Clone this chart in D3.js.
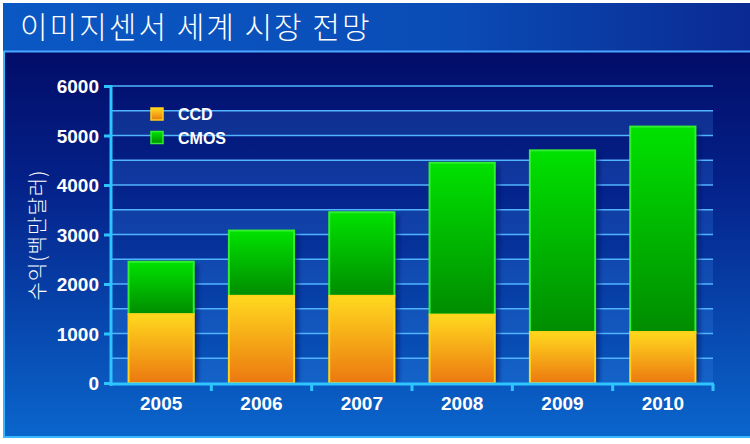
<!DOCTYPE html>
<html><head><meta charset="utf-8">
<script src="https://cdn.jsdelivr.net/npm/d3@7"></script>
<style>body{margin:0;background:#fff}svg{display:block}</style>
</head><body>
<script>
const years = ["2005","2006","2007","2008","2009","2010"];
const ccd = [1390, 1760, 1760, 1380, 1030, 1030];
const cmos = [1060, 1320, 1690, 3070, 3670, 4150];
const yTicks = [0,1000,2000,3000,4000,5000,6000];
const seriesNames = ["CCD","CMOS"];
const titleText = "이미지센서 세계 시장 전망";
const yTitle = "수익(백만달러)";

const W=750,H=444;
const svg=d3.select("body").append("svg").attr("width",W).attr("height",H);
const defs=svg.append("defs");
function lg(id,stops,x2,y2){const g=defs.append("linearGradient").attr("id",id).attr("x1",0).attr("y1",0).attr("x2",x2).attr("y2",y2);
 stops.forEach(s=>g.append("stop").attr("offset",s[0]).attr("stop-color",s[1]));}
lg("bodyG",[[0,"#020c68"],[0.35,"#04228a"],[1,"#0a66cc"]],0,1);
lg("titleG",[[0,"#0a58c4"],[0.6,"#0a4cb6"],[1,"#0a2a92"]],1,0);
lg("ccdG",[[0,"#ffd91e"],[1,"#ec7810"]],0,1);
lg("cmosG",[[0,"#00e200"],[1,"#008c00"]],0,1);
const blur=defs.append("filter").attr("id","sh").attr("x","-20%").attr("y","-20%").attr("width","140%").attr("height","140%");
blur.append("feGaussianBlur").attr("stdDeviation",2);

svg.append("rect").attr("width",W).attr("height",H).attr("fill","#fff");
svg.append("rect").attr("x",3).attr("y",51).attr("width",W-3).attr("height",387).attr("fill","url(#bodyG)");
svg.append("rect").attr("x",3).attr("y",3).attr("width",W-3).attr("height",48).attr("fill","url(#titleG)");
svg.append("line").attr("x1",3).attr("x2",W).attr("y1",51.5).attr("y2",51.5).attr("stroke","#4aa6ff").attr("stroke-width",2);
svg.append("line").attr("x1",4).attr("x2",4).attr("y1",51).attr("y2",438).attr("stroke","#3ab8ff").attr("stroke-width",2);
svg.append("line").attr("x1",3).attr("x2",W).attr("y1",437).attr("y2",437).attr("stroke","#3ab8ff").attr("stroke-width",2);

svg.append("text").attr("x",20).attr("y",38).attr("fill","#fff")
 .style("font-family","'Noto Sans CJK KR'").style("font-weight",300).style("font-size","30px").style("letter-spacing","2px")
 .text(titleText);

const x=d3.scaleBand().domain(years).range([111,713]).paddingInner(0.35).paddingOuter(0.175);
const y=d3.scaleLinear().domain([0,6000]).range([383,86]);

// bands
const g=svg.append("g");
d3.range(0,6000,1000).forEach(v=>{
 g.append("rect").attr("x",111).attr("width",602).attr("y",y(v+500)).attr("height",y(v)-y(v+500))
  .attr("fill","#3a8cf0").attr("opacity",0.22);
});
d3.range(500,6001,500).forEach(v=>{
 g.append("line").attr("x1",111).attr("x2",713).attr("y1",y(v)).attr("y2",y(v)).attr("stroke","#52b4ff").attr("stroke-width",1.5);
});

// bars
const data=years.map((yr,i)=>({yr,ccd:ccd[i],tot:ccd[i]+cmos[i]}));
const bars=svg.append("g");
bars.selectAll(".sh").data(data).join("rect").attr("x",d=>x(d.yr)+4).attr("y",d=>y(d.tot)+3)
 .attr("width",x.bandwidth()).attr("height",d=>y(0)-y(d.tot)-3).attr("fill","#001060").attr("opacity",0.6).attr("filter","url(#sh)");
bars.selectAll(".cmos").data(data).join("rect").attr("x",d=>x(d.yr)).attr("y",d=>y(d.tot))
 .attr("width",x.bandwidth()).attr("height",d=>y(d.ccd)-y(d.tot)).attr("fill","url(#cmosG)").attr("stroke","#30f030").attr("stroke-width",2);
bars.selectAll(".ccd").data(data).join("rect").attr("x",d=>x(d.yr)).attr("y",d=>y(d.ccd))
 .attr("width",x.bandwidth()).attr("height",d=>y(0)-y(d.ccd)).attr("fill","url(#ccdG)").attr("stroke","#ffd21a").attr("stroke-width",2);

// axes
const ax=svg.append("g").attr("transform","translate(111,0)")
 .call(d3.axisLeft(y).tickValues(yTicks).tickSize(7).tickPadding(5).tickFormat(d3.format("d")));
ax.select(".domain").remove();
ax.selectAll("line").attr("stroke","#2ec4ff").attr("stroke-width",3);
ax.selectAll("text").attr("fill","#fff").style("font-family","'Liberation Sans',Arial").style("font-weight","bold").style("font-size","19px").attr("dy","0.36em");
svg.append("line").attr("x1",111).attr("x2",111).attr("y1",85).attr("y2",386).attr("stroke","#2ec4ff").attr("stroke-width",3);
svg.append("line").attr("x1",110).attr("x2",714).attr("y1",384).attr("y2",384).attr("stroke","#2ec4ff").attr("stroke-width",3);
const step=x.step();
years.forEach((yr,i)=>{
 const bx=x(yr)+x.bandwidth()+step*0.175;
 svg.append("line").attr("x1",bx).attr("x2",bx).attr("y1",384).attr("y2",391).attr("stroke","#2ec4ff").attr("stroke-width",3);
});
svg.append("g").selectAll("text").data(years).join("text").attr("x",d=>x(d)+x.bandwidth()/2).attr("y",410)
 .attr("text-anchor","middle").attr("fill","#fff").style("font-family","'Liberation Sans',Arial").style("font-weight","bold").style("font-size","19px").text(d=>d);

svg.append("text").attr("transform","translate(45,235) rotate(-90)").attr("text-anchor","middle").attr("fill","#fff")
 .style("font-family","'Noto Sans CJK KR'").style("font-weight",300).style("font-size","20px").style("letter-spacing","1px").text(yTitle);

// legend
const leg=svg.append("g");
seriesNames.forEach((n,i)=>{
 leg.append("rect").attr("x",151).attr("y",108+i*23.5).attr("width",12).attr("height",12)
  .attr("fill",i?"url(#cmosG)":"url(#ccdG)").attr("stroke",i?"#30f030":"#ffd21a").attr("stroke-width",1.5);
 leg.append("text").attr("x",178).attr("y",120+i*23.5).attr("fill","#fff").style("font-family","'Liberation Sans',Arial")
  .style("font-weight","bold").style("font-size","16px").text(n);
});
</script>
</body></html>
